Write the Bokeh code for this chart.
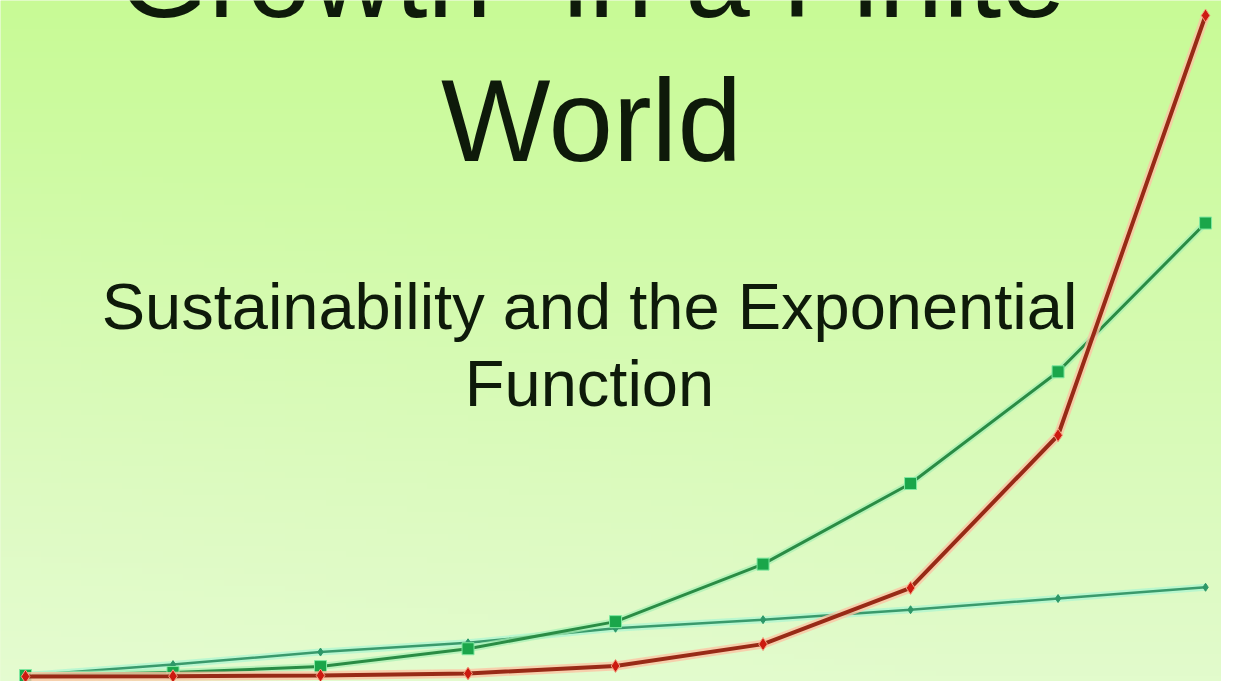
import numpy as np
from bokeh.plotting import figure
from bokeh.models import Range1d, Label
from bokeh.embed import file_html
from bokeh.resources import INLINE

# ---- data ----
periods = [0, 1, 2, 3, 4, 5, 6, 7, 8]
exponential = [0.0, 0.05, 0.15, 0.45, 1.6, 4.9, 13.4, 36.5, 100.0]
power_growth = [0.15, 0.6, 1.5, 4.2, 8.3, 17.0, 29.2, 46.1, 68.6]
linear_growth = [0.15, 1.8, 3.7, 5.1, 7.3, 8.6, 10.1, 11.8, 13.5]

title_line1 = "\u201cGrowth\u201d in a Finite"
title_line2 = "World"
subtitle_line1 = "Sustainability and the Exponential"
subtitle_line2 = "Function"

W, H = 1221, 681
FONT = "Liberation Sans"

p = figure(width=W, height=H, output_backend="svg", toolbar_location=None,
           x_range=Range1d(-0.1695, 8.108), y_range=Range1d(-0.756, 102.27),
           min_border=0, min_border_left=0, min_border_right=0,
           min_border_top=0, min_border_bottom=0)
p.axis.visible = False
p.grid.visible = False
p.outline_line_color = None
p.border_fill_color = "#d6f9b0"
p.background_fill_color = "#d6f9b0"

# background gradient (style only)
ny, nx = 120, 60
top = np.array([200, 250, 150], dtype=float)
bot = np.array([226, 251, 204], dtype=float)
img = np.empty((ny, nx), dtype=np.uint32)
view = img.view(dtype=np.uint8).reshape((ny, nx, 4))
for j in range(ny):
    t = j / (ny - 1)  # 0 bottom -> 1 top
    for i in range(nx):
        s = i / (nx - 1)
        c = bot * (1 - t) + top * t
        pale = max(0.0, (1 - t) * (1 - s) - 0.2) * 0.25
        c = c * (1 - pale) + np.array([240, 252, 225]) * pale
        view[j, i, 0] = int(c[0]); view[j, i, 1] = int(c[1]); view[j, i, 2] = int(c[2]); view[j, i, 3] = 255
x0, x1 = p.x_range.start, p.x_range.end
y0, y1 = p.y_range.start, p.y_range.end
p.image_rgba(image=[img], x=x0, y=y0, dw=x1 - x0, dh=y1 - y0)

# ---- texts ----
txt_color = "#0e1a0a"
p.add_layout(Label(x=572, y=705, x_units="screen", y_units="screen", text=title_line1,
                   text_font=FONT, text_font_size="116px", text_align="center",
                   text_baseline="alphabetic", text_color=txt_color))
p.add_layout(Label(x=591, y=561, x_units="screen", y_units="screen", text=title_line2,
                   text_font=FONT, text_font_size="116px", text_align="center",
                   text_baseline="alphabetic", text_color=txt_color))
p.add_layout(Label(x=589, y=375, x_units="screen", y_units="screen", text=subtitle_line1,
                   text_font=FONT, text_font_size="65px", text_align="center",
                   text_baseline="alphabetic", text_color=txt_color))
p.add_layout(Label(x=589, y=298, x_units="screen", y_units="screen", text=subtitle_line2,
                   text_font=FONT, text_font_size="65px", text_align="center",
                   text_baseline="alphabetic", text_color=txt_color))

# ---- series ----
# linear (teal)
p.line(periods, linear_growth, line_width=7, line_color="#a8f5d2", line_alpha=0.7)
p.line(periods, linear_growth, line_width=2.5, line_color="#3a9a6c")
p.scatter(periods, linear_growth, marker="diamond", size=8, fill_color="#2e9868",
          line_color="#2e9868")

# power growth (green)
p.line(periods, power_growth, line_width=7, line_color="#a6f0b4", line_alpha=0.7)
p.line(periods, power_growth, line_width=3, line_color="#2a8c44")
p.scatter(periods, power_growth, marker="square", size=12, fill_color="#1aa64a",
          line_color="#7ee8a0", line_width=1)

# exponential (red)
p.line(periods, exponential, line_width=9, line_color="#fbc4a4", line_alpha=0.8)
p.line(periods, exponential, line_width=4, line_color="#982a16")
p.scatter(periods, exponential, marker="diamond", size=13, fill_color="#cc1a10",
          line_color="#f4a080", line_width=1)

open("out.html", "w").write(file_html(p, INLINE))
